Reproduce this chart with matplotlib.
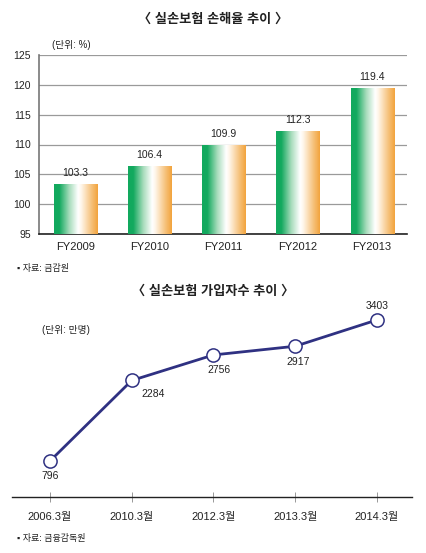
import numpy as np
import matplotlib
matplotlib.use("Agg")
import matplotlib.pyplot as plt
from matplotlib.colors import LinearSegmentedColormap
from matplotlib.patches import Rectangle

plt.rcParams['font.family'] = ['Liberation Sans', 'Noto Sans CJK KR', 'DejaVu Sans']

# top chart: 손해율
years = ["FY2009", "FY2010", "FY2011", "FY2012", "FY2013"]
loss_ratio = [103.3, 106.4, 109.9, 112.3, 119.4]
loss_labels = ["103.3", "106.4", "109.9", "112.3", "119.4"]

# bottom chart: 가입자수
periods = ["2006.3월", "2010.3월", "2012.3월", "2013.3월", "2014.3월"]
members = [796, 2284, 2756, 2917, 3403]

W, H = 427, 553
fig = plt.figure(figsize=(W / 100, H / 100), dpi=100, facecolor="white")

GREEN = "#12a95e"
ORANGE = "#f2a33c"
NAVY = "#2f3182"
TXT = "#222222"
cmap = LinearSegmentedColormap.from_list(
    "bar", [(0, GREEN), (0.12, GREEN), (0.35, "#a8dcbc"), (0.55, "#ffffff"),
            (0.62, "#fff6ea"), (0.85, "#f6c27c"), (1.0, ORANGE)])
grad = np.linspace(0, 1, 256)[None, :]

# ---- top bar chart
ax = fig.add_axes([39 / W, 1 - 234 / H, (407 - 39) / W, (234 - 55) / H])
ax.set_xlim(-0.49, 4.47)
ax.set_ylim(95, 125)
bw = 0.58
x = np.arange(len(years))
for xi, v, lab in zip(x, loss_ratio, loss_labels):
    rect = Rectangle((xi - bw / 2, 95), bw, v - 95, facecolor="none", edgecolor="none")
    ax.add_patch(rect)
    im = ax.imshow(grad, cmap=cmap, aspect="auto", extent=(xi - bw / 2, xi + bw / 2, 95, v),
                   zorder=3, interpolation="bilinear")
    im.set_clip_path(rect)
    ax.annotate(lab, (xi, v), xytext=(0, 8), textcoords="offset points",
                ha="center", va="center", fontsize=7.5, color=TXT)
ax.set_yticks(range(95, 126, 5))
ax.yaxis.grid(True, color="#9a9a9a", lw=0.9)
ax.set_axisbelow(True)
ax.set_xticks(x)
ax.set_xticklabels(years)
ax.tick_params(axis="x", length=0, pad=6, labelsize=8, colors=TXT)
ax.tick_params(axis="y", length=0, pad=6, labelsize=7.5, colors=TXT)
for s in ["top", "right"]:
    ax.spines[s].set_visible(False)
ax.spines["left"].set_color("#777")
ax.spines["left"].set_linewidth(1.2)
ax.spines["bottom"].set_color(TXT)
ax.spines["bottom"].set_linewidth(1.2)

fig.text(213 / W, 1 - 20 / H, "〈 실손보험 손해율 추이 〉", ha="center", va="center",
         fontsize=9.5, fontweight="bold", color=TXT)
fig.text(52 / W, 1 - 45 / H, "(단위: %)", ha="left", va="center", fontsize=7, color=TXT)
fig.text(17 / W, 1 - 268 / H, "▪ 자료: 금감원", ha="left", va="center", fontsize=6.5, color=TXT)

# ---- bottom line chart
ax2 = fig.add_axes([12 / W, 1 - 497 / H, (412 - 12) / W, (497 - 300) / H])
xs = np.arange(len(periods))
ax2.set_xlim(-0.465, 4.43)
ax2.set_ylim(130, 3772)
ax2.plot(xs, members, color=NAVY, lw=2.0, marker="o", ms=9.5, mfc="white",
         mec=NAVY, mew=1.1, zorder=3, clip_on=False)
offsets = [(0, -11), (7, -10), (4, -11), (2, -11), (0, 10)]
aligns = ["center", "left", "center", "center", "center"]
for xi, v, (dx, dy), ha in zip(xs, members, offsets, aligns):
    ax2.annotate(str(v), (xi, v), xytext=(dx, dy), textcoords="offset points",
                 ha=ha, va="center", fontsize=7.5, color=TXT)
ax2.set_xticks(xs)
ax2.set_xticklabels(periods)
ax2.set_yticks([])
ax2.tick_params(axis="x", direction="inout", length=7, width=0.6, color="#888",
                pad=7, labelsize=8, labelcolor=TXT)
for s in ["top", "right", "left"]:
    ax2.spines[s].set_visible(False)
ax2.spines["bottom"].set_color(TXT)
ax2.spines["bottom"].set_linewidth(1.0)

fig.text(213 / W, 1 - 292 / H, "〈 실손보험 가입자수 추이 〉", ha="center", va="center",
         fontsize=9.5, fontweight="bold", color=TXT)
fig.text(42 / W, 1 - 330 / H, "(단위: 만명)", ha="left", va="center", fontsize=7, color=TXT)
fig.text(17 / W, 1 - 538 / H, "▪ 자료: 금융감독원", ha="left", va="center", fontsize=6.5, color=TXT)

fig.savefig("out.png", dpi=100, facecolor="white")
